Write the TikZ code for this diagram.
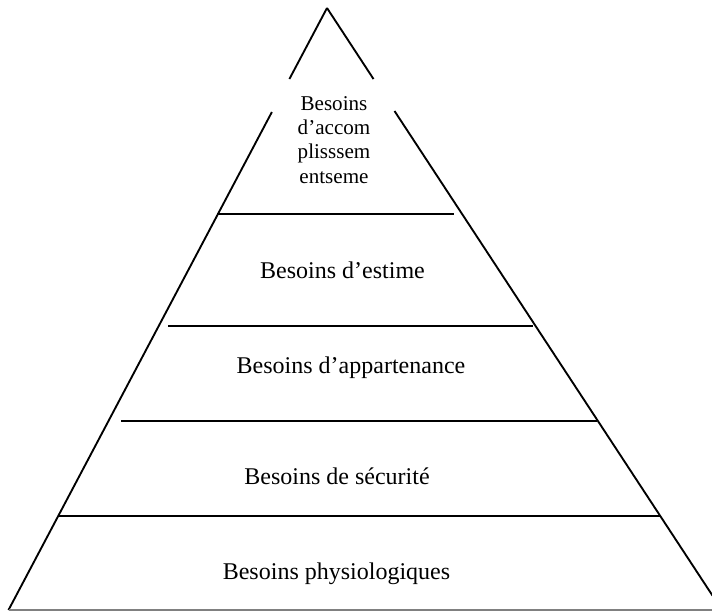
\documentclass[tikz,border=0pt]{standalone}
\usepackage{fontspec}
\setmainfont{Liberation Serif}
\begin{document}
\begin{tikzpicture}[x=0.75pt,y=-0.75pt,line width=1.4pt,
  main node/.style={font=\fontsize{18}{22}\selectfont,anchor=base,inner sep=0pt},
  top node/.style={font=\fontsize{15.8}{18.25}\selectfont,align=center,anchor=base,inner sep=0pt},
  level line/.style={line width=1.5pt},
  base line/.style={line width=0.8pt,gray}]
  \useasboundingbox (0,0) rectangle (712,611);

  \coordinate (apex) at (327,8);

  % sides of the pyramid, broken behind the top label
  \draw (apex) -- (289.4,79);
  \draw (271.9,112) -- (8.5,610);
  \draw (apex) -- (373.5,79);
  \draw (394.5,111) -- (712.5,595.6);
  \draw[base line] (8.5,610) -- (712,610);

  % levels
  \draw[level line] (217,214) -- (454,214);
  \draw[level line] (168,326) -- (533,326);
  \draw[level line] (121,421) -- (597,421);
  \draw[level line] (58,516) -- (660,516);

  \node[top node] (1) at (334,183) {Besoins\\d’accom\\plisssem\\entseme};
  \node[main node] (2) at (342.5,278) {Besoins d’estime};
  \node[main node] (3) at (351,373) {Besoins d’appartenance};
  \node[main node] (4) at (337,484) {Besoins de sécurité};
  \node[main node] (5) at (336.5,579) {Besoins physiologiques};
\end{tikzpicture}
\end{document}
